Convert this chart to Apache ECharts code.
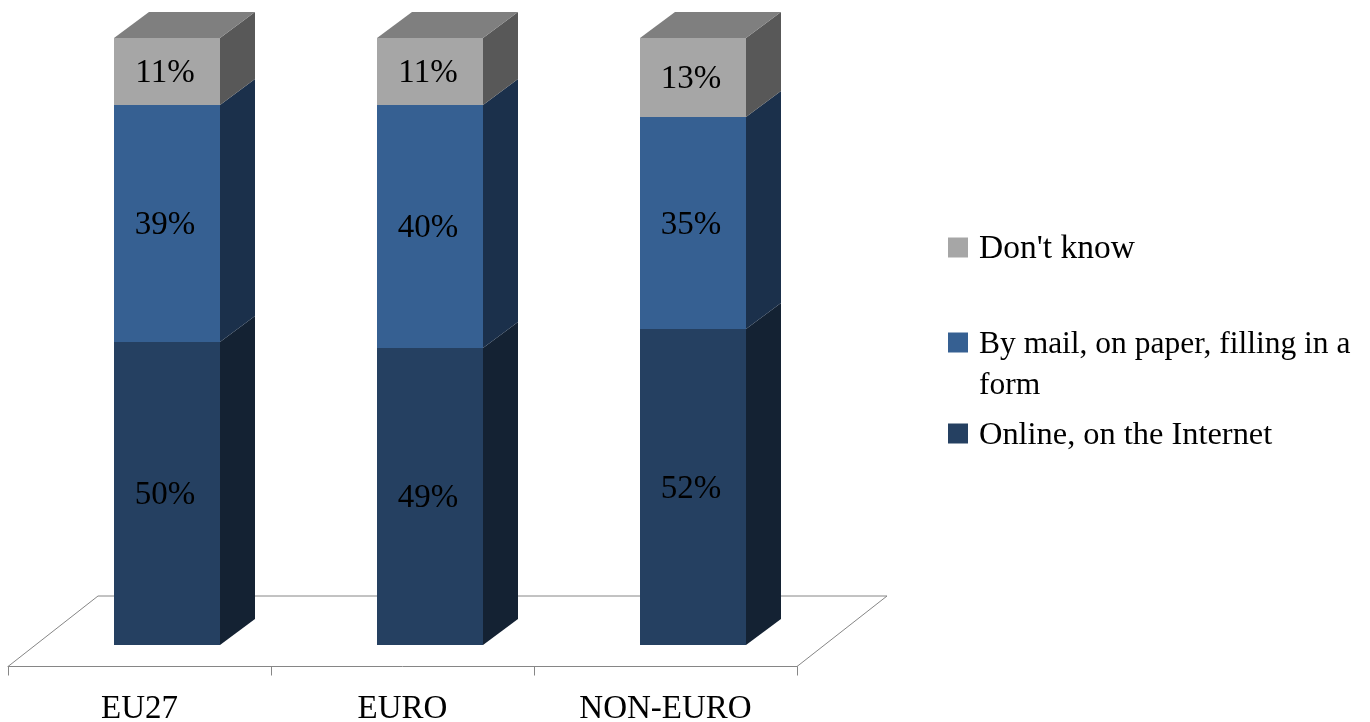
<!DOCTYPE html>
<html>
<head>
<meta charset="utf-8">
<title>Stacked 3D bars</title>
<style>
  html, body { margin: 0; background: #fff; }
  #chart { width: 1370px; height: 722px; }
</style>
<script src="https://cdn.jsdelivr.net/npm/echarts@6/dist/echarts.min.js"></script>
</head>
<body>
<div id="chart"></div>
<script>
const categories = ['EU27', 'EURO', 'NON-EURO']
const online = [50, 49, 52]
const byMail = [39, 40, 35]
const dontKnow = [11, 11, 13]

const FONT = '"Liberation Serif", "Times New Roman", serif'
const DEPTH_X = 35
const DEPTH_Y = 26
const BAR_SHIFT = 27.5 // bars sit in the middle of the floor depth

// build [category, start, end, value] rows, stacked on what is below
const stack = (values, below) => values.map((v, i) => [i, below[i], below[i] + v, v])
const onlineRows = stack(online, [0, 0, 0])
const mailRows = stack(byMail, online)
const knowRows = stack(dontKnow, online.map((v, i) => v + byMail[i]))

const barItem = (front, side, top) => (params, api) => {
  const cx = api.coord([api.value(0), 0])[0] + BAR_SHIFT
  const w = api.size([1, 0])[0] * 0.405
  const yLow = Math.round(api.coord([0, api.value(1)])[1])
  const yHigh = Math.round(api.coord([0, api.value(2)])[1])
  const l = Math.round(cx - w / 2)
  const r = Math.round(cx + w / 2)
  const children = [
    {
      type: 'polygon',
      shape: { points: [[r, yLow], [r, yHigh], [r + DEPTH_X, yHigh - DEPTH_Y], [r + DEPTH_X, yLow - DEPTH_Y]] },
      style: { fill: side }
    },
    {
      type: 'rect',
      shape: { x: l, y: yHigh, width: r - l, height: yLow - yHigh },
      style: { fill: front }
    },
    {
      type: 'text',
      style: {
        x: cx - 2,
        y: (yLow + yHigh) / 2 + 2,
        text: api.value(3) + '%',
        fill: '#000',
        font: '33px ' + FONT,
        align: 'center',
        verticalAlign: 'middle'
      }
    }
  ]
  if (top) {
    children.push({
      type: 'polygon',
      shape: { points: [[l, yHigh], [r, yHigh], [r + DEPTH_X, yHigh - DEPTH_Y], [l + DEPTH_X, yHigh - DEPTH_Y]] },
      style: { fill: top }
    })
  }
  return { type: 'group', children }
}

// the floor outline behind the bars, front edge is the axis line itself
const floorItem = (params) => {
  const c = params.coordSys
  const y = c.y + c.height + 21.5
  const x1 = c.x
  const x2 = c.x + c.width
  return {
    type: 'polyline',
    shape: { points: [[x1, y], [x1 + 90, y - 70.5], [x2 + 90, y - 70.5], [x2, y]] },
    style: { fill: null, stroke: '#868686', lineWidth: 1 }
  }
}

const customSeries = (name, rows, color, side, top) => ({
  name,
  type: 'custom',
  data: rows,
  encode: { x: 0, y: [1, 2] },
  itemStyle: { color },
  renderItem: barItem(color, side, top)
})

// top padding pushes the text down so its baseline meets the square's bottom
const legendAt = (name, top, fontSize, formatter) => ({
  left: 948,
  top,
  padding: 0,
  orient: 'vertical',
  selectedMode: false,
  icon: 'rect',
  itemWidth: 20,
  itemHeight: 20,
  data: [name],
  formatter,
  textStyle: {
    padding: [4, 0, 0, 6],
    rich: {
      t: { fontFamily: FONT, fontSize, lineHeight: 41, color: '#000' }
    }
  }
})

const mailName = 'By mail, on paper, filling in a\nform'
const chart = echarts.init(document.getElementById('chart'))
chart.setOption({
  animation: false,
  backgroundColor: '#fff',
  grid: { left: 8, top: 38, width: 789, height: 607, outerBoundsMode: 'none' },
  xAxis: {
    type: 'category',
    data: categories,
    offset: 21.5,
    axisLine: { show: true, onZero: false, lineStyle: { color: '#868686', width: 1 } },
    axisTick: { show: true, length: 9, lineStyle: { color: '#868686' } },
    axisLabel: { color: '#000', fontFamily: FONT, fontSize: 33, margin: 26 }
  },
  yAxis: { type: 'value', min: 0, max: 100, show: false },
  legend: [
    legendAt("Don't know", 232.5, 33.5, (n) => '{t|' + n + '}'),
    // blank first line keeps the square level with the first text line
    legendAt(mailName, 287.5, 31.5, (n) => '{t| }\n{t|' + n.split('\n').join('}\n{t|') + '}'),
    legendAt('Online, on the Internet', 419.5, 32.4, (n) => '{t|' + n + '}')
  ],
  series: [
    { type: 'custom', silent: true, data: [[0, 0]], encode: { x: 0, y: 1 }, renderItem: floorItem },
    customSeries('Online, on the Internet', onlineRows, '#254061', '#142233', null),
    customSeries(mailName, mailRows, '#366092', '#1b304b', null),
    customSeries("Don't know", knowRows, '#a6a6a6', '#585858', '#7f7f7f')
  ]
})
</script>
</body>
</html>
